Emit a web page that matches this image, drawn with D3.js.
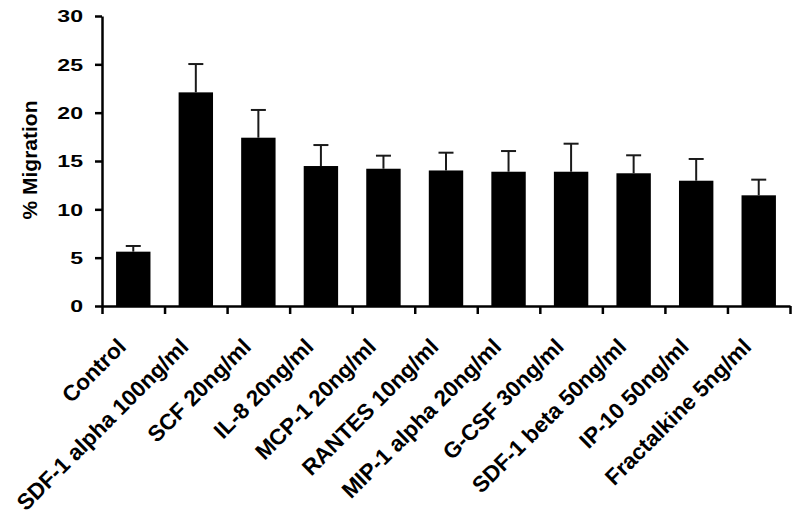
<!DOCTYPE html>
<html>
<head>
<meta charset="utf-8">
<script src="https://cdn.jsdelivr.net/npm/d3@7"></script>
<style>
  html, body { margin: 0; padding: 0; background: #fff; }
  svg { display: block; font-family: "Liberation Sans", Arial, sans-serif; font-weight: bold; }
</style>
</head>
<body>
<svg id="chart" width="800" height="517"></svg>
<script>
const categories = ["Control", "SDF-1 alpha 100ng/ml", "SCF 20ng/ml", "IL-8 20ng/ml", "MCP-1 20ng/ml",
  "RANTES 10ng/ml", "MIP-1 alpha 20ng/ml", "G-CSF 30ng/ml", "SDF-1 beta 50ng/ml", "IP-10 50ng/ml", "Fractalkine 5ng/ml"];
const means = [5.62, 22.1, 17.41, 14.48, 14.2, 14.02, 13.89, 13.89, 13.73, 12.96, 11.45];
const errors = [0.59, 2.93, 2.87, 2.17, 1.35, 1.84, 2.14, 2.9, 1.86, 2.25, 1.62];
const yTicks = [0, 5, 10, 15, 20, 25, 30];
const yLabel = "% Migration";

const svg = d3.select("#chart");
const mLeft = 102, mRight = 790, mTop = 16, mBottom = 306;

const x = d3.scaleBand().domain(categories).range([mLeft, mRight]).paddingInner(0.45).paddingOuter(0.225);
const y = d3.scaleLinear().domain([0, 30]).range([mBottom, mTop]);
const xb = d3.scaleLinear().domain([0, categories.length]).range([mLeft, mRight]);

// bars
svg.append("g").selectAll("rect").data(categories).join("rect")
  .attr("x", d => x(d))
  .attr("width", x.bandwidth())
  .attr("y", (d, i) => y(means[i]))
  .attr("height", (d, i) => y(0) - y(means[i]))
  .attr("fill", "#000");

// error bars (upper only)
const eg = svg.append("g").attr("stroke", "#1a1a1a").attr("stroke-width", 2);
categories.forEach((c, i) => {
  const cx = x(c) + x.bandwidth() / 2;
  eg.append("line").attr("x1", cx).attr("x2", cx).attr("y1", y(means[i])).attr("y2", y(means[i] + errors[i]));
  eg.append("line").attr("x1", cx - 7.5).attr("x2", cx + 7.5).attr("y1", y(means[i] + errors[i])).attr("y2", y(means[i] + errors[i]));
});

// y axis
const yAxis = svg.append("g").attr("transform", `translate(${mLeft},0)`)
  .call(d3.axisLeft(y).tickValues(yTicks).tickSize(7).tickSizeOuter(0).tickFormat(d3.format("d")));
yAxis.selectAll("path, line").attr("stroke", "#000").attr("stroke-width", 2.5);
yAxis.selectAll("text")
  .attr("x", 0).attr("dy", "0.36em")
  .attr("transform", "translate(-19,0) scale(1.4,1)")
  .attr("text-anchor", "end")
  .attr("fill", "#000")
  .style("font-size", "16.5px").style("font-weight", "bold")
  .style("font-family", '"Liberation Sans", Arial, sans-serif');

// x axis
const xAxis = svg.append("g").attr("transform", `translate(0,${mBottom})`)
  .call(d3.axisBottom(xb).tickValues(d3.range(categories.length + 1)).tickSize(8).tickSizeOuter(0).tickFormat(""));
xAxis.selectAll("path, line").attr("stroke", "#000").attr("stroke-width", 2.5);

// x labels
svg.append("g").selectAll("text").data(categories).join("text")
  .attr("transform", d => `translate(${x(d) + x.bandwidth() / 2 - 6},348) rotate(-45)`)
  .attr("text-anchor", "end")
  .attr("fill", "#000")
  .style("font-size", "22.3px")
  .text(d => d);

// y label
svg.append("text")
  .attr("transform", "translate(37,160) rotate(-90)")
  .attr("text-anchor", "middle")
  .attr("fill", "#000")
  .style("font-size", "21px")
  .text(yLabel);
</script>
</body>
</html>
